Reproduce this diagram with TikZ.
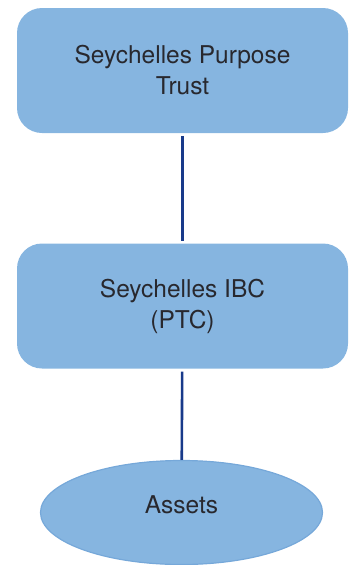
\documentclass[tikz,border=0pt]{standalone}
\usepackage{fontspec}
\setmainfont{TeX Gyre Heros}
\usetikzlibrary{positioning,calc,shapes.geometric}
\definecolor{boxblue}{RGB}{134,181,224}
\definecolor{ovalline}{RGB}{118,168,217}
\definecolor{linknavy}{RGB}{24,58,138}
\definecolor{textgray}{RGB}{40,40,46}
\tikzset{font=\fontsize{24.5}{31}\selectfont, text=textgray}

\begin{document}
\begin{tikzpicture}[x=1pt, y=1pt]
	\useasboundingbox (0, 0) rectangle (349, -565);
	\begin{scope}
		\tikzstyle{every node}=[align=center, inner sep=0pt]
		\tikzstyle{entity}=[fill=boxblue, rounded corners=25pt, minimum width=331pt, minimum height=125pt]
		\node[entity] (trust) at (182.5, -70.5) {Seychelles Purpose\\Trust};
		\node[entity] (ibc) at (182.5, -306) {Seychelles IBC\\(PTC)};
		\node[ellipse, fill=boxblue, draw=ovalline, line width=1.2pt, minimum width=282pt, minimum height=104pt, text depth=16pt] (assets) at (181.5, -512.5) {Assets};

		\draw [linknavy, line width=2.6pt, shorten <=3pt, shorten >=2pt] (trust) to (ibc);
		\draw [linknavy, line width=2.6pt, shorten <=3pt] (ibc) to (assets);
	\end{scope}
\end{tikzpicture}
\end{document}
